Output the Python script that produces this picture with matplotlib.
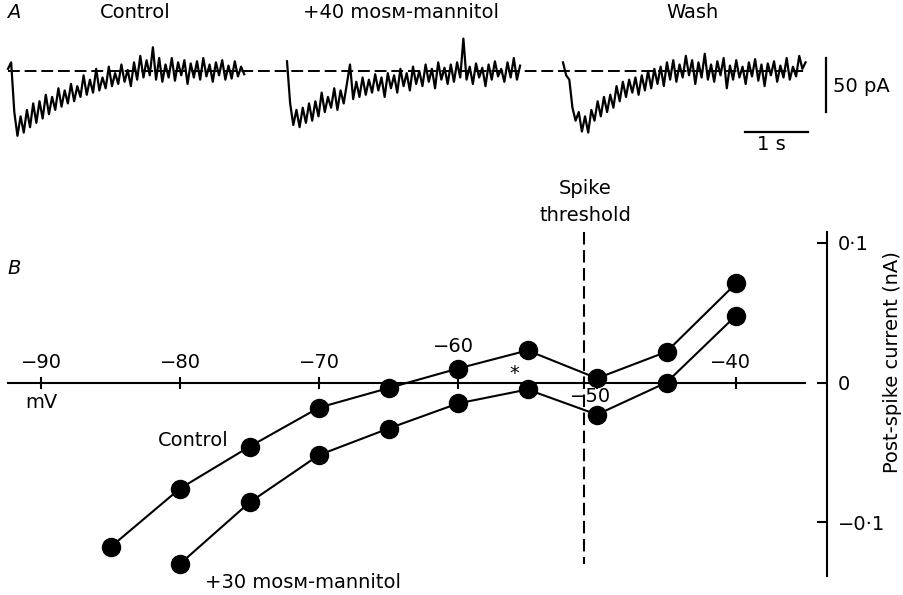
import numpy as np
import matplotlib
matplotlib.use('Agg')
import matplotlib.pyplot as plt

plt.rcParams.update({
    'font.family': ['DejaVu Sans'],
    'font.size': 14,
    'lines.scale_dashes': False,
})

# ---- Panel A: current traces (pA), sampled every 0.05 s ----
DT = 0.05
TRACE_CONTROL = [
    2, 8, -38, -60, -42, -57, -36, -52, -30, -48,
    -28, -44, -22, -40, -24, -36, -16, -33, -18, -30,
    -12, -28, -14, -24, -4, -22, -8, -20, 2, -18,
    -6, -16, 4, -14, -2, -12, 6, -10, 1, -14,
    8, -8, 14, -6, 10, -4, 22, -8, 12, -10,
    6, -6, 12, -9, 8, -4, 10, -12, 7, -6,
    9, -8, 12, -5, 6, -10, 8, -4, 10, -8,
    5, -7, 9, -5, 4, -3,
]
TRACE_MANNITOL = [
    9, -30, -50, -36, -52, -34, -48, -30, -46, -28,
    -42, -20, -38, -24, -34, -16, -36, -18, -30, -12,
    6, -26, -10, -24, -6, -22, -8, -20, -3, -18,
    -6, -24, -2, -16, -4, -20, 2, -14, -2, -18,
    4, -12, 0, -14, 6, -10, 2, -16, 8, -8,
    3, -12, 6, -10, 8, -6, 30, -8, 4, -12,
    7, -6, 3, -14, 6, -8, 9, -5, 2, -10,
    8, -6, 12, -8, 5,
]
TRACE_WASH = [
    8, -4, -8, -34, -46, -38, -56, -42, -57, -36,
    -46, -28, -42, -24, -38, -22, -34, -14, -28, -10,
    -24, -8, -20, -6, -22, -4, -18, 0, -16, 2,
    -12, 4, -14, 8, -8, 10, -10, 6, -6, 14,
    -4, 10, -12, 8, -6, 16, -8, 6, -10, 9,
    -4, 12, -16, 5, -8, 10, -6, 4, -12, 8,
    -5, 11, -9, 6, -14, 7, -4, 9, -10, 5,
    -6, 12, -8, 4, -5, 14, 2, 8,
]
TRACE_TITLES = ['Control', '+40 mos\u1d0d-mannitol', 'Wash']
SCALE_PA = 50
SCALE_S = 1

# ---- Panel B: post-spike current vs membrane potential ----
V_CONTROL = [-85, -80, -75, -70, -65, -60, -55, -50, -45, -40]
I_CONTROL = [-0.118, -0.076, -0.046, -0.018, -0.004, 0.010, 0.023, 0.003, 0.022, 0.071]
V_MANNITOL = [-80, -75, -70, -65, -60, -55, -50, -45, -40]
I_MANNITOL = [-0.130, -0.086, -0.052, -0.033, -0.015, -0.005, -0.023, 0.000, 0.048]
SPIKE_THRESHOLD_MV = -50.9
X_TICKS = [-90, -80, -70, -60, -50, -40]
X_TICK_LABELS = ['\u221290', '\u221280', '\u221270', '\u221260', '\u221250', '\u221240']
Y_TICKS = [-0.1, 0, 0.1]
Y_TICK_LABELS = ['\u22120\u00b71', '0', '0\u00b71']

W, H = 904, 595
fig = plt.figure(figsize=(W / 100, H / 100), dpi=100)


def fpos(x, y):
    return x / W, 1 - y / H


# scales (pixels per unit) and origins
S_PX, PA_PX = 63.0, 1.08          # panel A: px per s, px per pA
A_X0, A_Y0 = 8, 71
MV_PX, NA_PX = 13.9, 1395.0       # panel B: px per mV, px per nA
B_X0, B_Y0 = 41, 382.5            # -90 mV, 0 nA

# ---------------- Panel A ----------------
ax_a = fig.add_axes([0, 0, 1, 1])
ax_a.set_xlim(-A_X0 / S_PX, (W - A_X0) / S_PX)
ax_a.set_ylim(-(H - A_Y0) / PA_PX, A_Y0 / PA_PX)
ax_a.axis('off')

trace_starts = [0.0, (287 - A_X0) / S_PX, (563 - A_X0) / S_PX]
traces = [TRACE_CONTROL, TRACE_MANNITOL, TRACE_WASH]
base_end = (806 - A_X0) / S_PX
ax_a.plot([0, base_end], [0, 0], color='black', lw=1.4,
          ls=(0, (8.5, 3.5)), zorder=1)
for t0, tr in zip(trace_starts, traces):
    t = t0 + np.arange(len(tr)) * DT
    ax_a.plot(t, tr, color='black', lw=1.6, zorder=2)

# scale bars
sb_x = (826 - A_X0) / S_PX
sb_top = (A_Y0 - 58) / PA_PX
ax_a.plot([sb_x, sb_x], [sb_top, sb_top - SCALE_PA], color='black', lw=1.6)
hb_x0 = (745 - A_X0) / S_PX
hb_y = -(132 - A_Y0) / PA_PX
ax_a.plot([hb_x0, hb_x0 + SCALE_S], [hb_y, hb_y], color='black', lw=1.6)

fig.text(*fpos(833, 87), f'{SCALE_PA} pA', ha='left', va='center')
fig.text(*fpos(771, 145), f'{SCALE_S} s', ha='center', va='center')

fig.text(*fpos(7, 12), 'A', ha='left', va='center', fontstyle='italic')
for xc, title in zip([135, 401, 692], TRACE_TITLES):
    fig.text(*fpos(xc, 12), title, ha='center', va='center')

# ---------------- Panel B ----------------
ax_b = fig.add_axes([0, 0, 1, 1], facecolor='none')
ax_b.set_xlim(-90 - B_X0 / MV_PX, -90 + (W - B_X0) / MV_PX)
ax_b.set_ylim(-(H - B_Y0) / NA_PX, B_Y0 / NA_PX)

ax_b.plot(V_CONTROL, I_CONTROL, color='black', lw=1.5, marker='o',
          ms=13, zorder=3, clip_on=False)
ax_b.plot(V_MANNITOL, I_MANNITOL, color='black', lw=1.5, marker='o',
          ms=13, zorder=3, clip_on=False)

ax_b.axvline(SPIKE_THRESHOLD_MV, ymin=1 - 232 / H, ymax=1 - 564 / H,
             color='black', lw=1.5, ls=(0, (9, 4)))

for side in ['left', 'top']:
    ax_b.spines[side].set_visible(False)
ax_b.spines['bottom'].set_position(('data', 0))
ax_b.spines['bottom'].set_bounds(-90 - (B_X0 - 8) / MV_PX, -90 + (805 - B_X0) / MV_PX)
ax_b.spines['bottom'].set_linewidth(1.5)
ax_b.spines['right'].set_position(('data', -90 + (827 - B_X0) / MV_PX))
ax_b.spines['right'].set_bounds(-(576 - B_Y0) / NA_PX, (B_Y0 - 232) / NA_PX)
ax_b.spines['right'].set_linewidth(1.5)

ax_b.set_xticks(X_TICKS)
ax_b.tick_params(axis='x', direction='inout', length=9, width=1.5,
                 labelbottom=False)
ax_b.yaxis.tick_right()
ax_b.set_yticks(Y_TICKS, labels=Y_TICK_LABELS)
ax_b.tick_params(axis='y', direction='in', length=7, width=1.5,
                 pad=8, labelsize=14)
ax_b.set_ylabel('Post-spike current (nA)', fontsize=14)
ax_b.yaxis.set_label_position('right')
ax_b.yaxis.set_label_coords(883 / W, 1 - 362 / H)

# tick labels sit above or below the zero axis (offsets in pixels)
tick_offsets = [(0, 20.5), (0, 20.5), (0, 20.5), (-5, 35.5), (-6, -14.5), (-6, 20.5)]
for v, lab, (dx, dy) in zip(X_TICKS, X_TICK_LABELS, tick_offsets):
    ax_b.annotate(lab, (v, 0), xytext=(dx, dy), textcoords='offset pixels',
                  ha='center', va='center', fontsize=14)

fig.text(*fpos(41, 403), 'mV', ha='center', va='center')
fig.text(*fpos(7, 268), 'B', ha='left', va='center', fontstyle='italic')
fig.text(*fpos(585, 189), 'Spike', ha='center', va='center')
fig.text(*fpos(585, 215), 'threshold', ha='center', va='center')
fig.text(*fpos(514, 374), '*', ha='center', va='center')
fig.text(*fpos(193, 440), 'Control', ha='center', va='center')
fig.text(*fpos(303, 582), '+30 mos\u1d0d-mannitol', ha='center', va='center')

fig.savefig('out.png', dpi=100)
